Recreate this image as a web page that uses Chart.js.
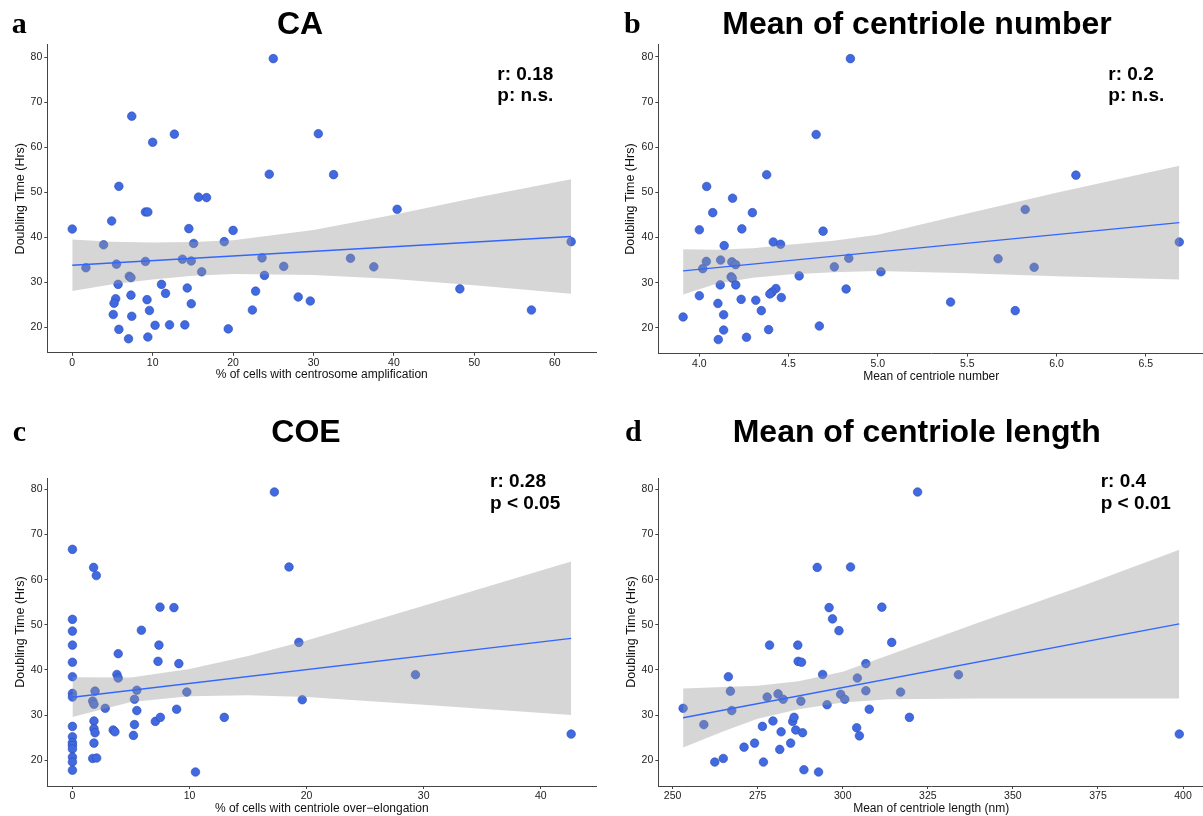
<!DOCTYPE html>
<html><head><meta charset="utf-8">
<script src="https://cdn.jsdelivr.net/npm/chart.js@4.4.0/dist/chart.umd.min.js"></script>
<style>
html,body{margin:0;padding:0;background:#fff;width:1203px;height:816px;overflow:hidden;position:relative}
canvas{position:absolute}
</style></head><body>
<canvas id="cA" width="601" height="400" style="left:0;top:0"></canvas>
<canvas id="cB" width="608" height="400" style="left:601px;top:0"></canvas>
<canvas id="cC" width="601" height="408" style="left:0;top:408px"></canvas>
<canvas id="cD" width="608" height="408" style="left:601px;top:408px"></canvas>
<script>
// ---------- shared ----------
const yTicks = [20, 30, 40, 50, 60, 70, 80];

// ---------- a: CA ----------
const caX = [25.0,7.4,10.0,12.7,24.5,5.8,15.7,16.7,9.1,9.4,4.9,0,14.5,20.0,3.9,15.1,18.9,1.7,5.5,9.1,13.7,14.8,16.1,23.6,26.3,7.1,7.3,23.9,5.7,11.1,14.3,11.6,22.8,5.4,5.2,7.3,9.3,9.6,14.8,22.4,28.1,29.6,5.1,7.4,10.3,12.1,14.0,5.8,19.4,7.0,9.4,30.6,32.5,40.4,62.04,34.6,37.5,48.2,57.1];
const caY = [79.7,66.9,61.1,62.9,54.0,51.3,48.9,48.8,45.6,45.6,43.6,41.8,41.9,41.5,38.3,38.6,39.0,33.2,34.0,34.6,35.1,34.7,32.3,35.4,33.5,31.3,31.0,31.5,29.5,29.5,28.7,27.5,28.0,26.3,25.3,27.1,26.1,23.7,25.2,23.8,26.7,25.8,22.8,22.4,20.4,20.5,20.5,19.5,19.6,17.4,17.8,63.0,53.9,46.2,39.0,35.3,33.4,28.5,23.8];
const caFitX = [0, 62.04];
const caFitY = [33.75, 40.15];
const caBandX = [0, 5, 10, 15, 20, 30, 40, 50, 62.04];
const caBandUpper = [39.5, 39.0, 38.8, 38.9, 39.3, 41.6, 45.0, 48.7, 52.9];
const caBandLower = [28.0, 29.5, 30.6, 31.4, 31.8, 31.6, 30.7, 29.3, 27.4];
const caXTicks = [0, 10, 20, 30, 40, 50, 60];

// ---------- b: Mean of centriole number ----------
const cnX = [4.846,4.654,4.377,4.041,4.186,4.075,4.297,4.0,4.238,4.693,4.414,4.455,4.139,4.039,4.119,4.182,4.203,4.019,4.837,4.756,4.559,5.017,4.178,4.184,4.117,4.204,4.0,4.429,4.407,4.395,4.822,4.234,4.316,4.459,4.104,4.347,4.136,3.909,4.672,4.136,4.388,4.106,4.264,6.109,5.825,6.688,5.673,5.875,5.407,5.769];
const cnY = [79.6,62.8,53.9,51.3,48.7,45.5,45.5,41.7,41.9,41.4,39.0,38.5,38.2,34.7,35.0,34.6,34.0,33.1,35.4,33.5,31.5,32.4,31.3,31.0,29.5,29.5,27.1,28.7,27.9,27.5,28.6,26.3,26.1,26.7,25.4,23.8,22.9,22.4,20.4,19.5,19.6,17.4,17.9,53.8,46.2,39.0,35.3,33.4,25.7,23.8];
const cnFitX = [3.909, 6.688];
const cnFitY = [32.6, 43.3];
const cnBandX = [3.909, 4.1, 4.3, 4.5, 4.75, 5.0, 5.5, 6.0, 6.688];
const cnBandUpper = [37.4, 37.3, 37.6, 38.4, 39.3, 40.6, 45.3, 49.9, 55.9];
const cnBandLower = [27.4, 29.8, 31.1, 31.8, 32.3, 32.6, 32.1, 31.4, 30.7];
const cnXTicks = [4.0, 4.5, 5.0, 5.5, 6.0, 6.5];

// ---------- c: COE ----------
const coeX = [17.25,18.5,0,1.81,2.04,0,0,0,0,0,0,0,0,0,0,0,0,0,0,0,7.48,8.67,5.89,7.39,3.91,7.31,9.09,3.80,3.91,1.93,5.50,9.77,1.73,1.84,5.30,2.80,5.50,8.90,1.84,1.84,1.93,3.48,3.63,5.30,5.21,7.08,7.51,12.97,1.84,1.73,2.07,10.51,19.34,19.63,29.3,42.6];
const coeY = [79.4,62.8,66.7,62.7,60.9,51.2,48.6,45.5,41.7,38.5,34.8,34.0,27.5,25.2,23.9,23.3,22.5,20.7,19.6,17.8,53.9,53.8,48.8,45.5,43.6,41.9,41.4,39.0,38.2,35.3,35.5,35.1,33.1,32.4,33.5,31.5,31.0,31.3,28.7,27.0,26.1,26.7,26.3,27.9,25.5,28.6,29.5,29.5,23.8,20.4,20.5,17.4,46.1,33.4,38.95,25.8];
const coeFitX = [0, 42.6];
const coeFitY = [33.95, 47.0];
const coeBandX = [0, 5, 10, 15, 20, 30, 42.6];
const coeBandUpper = [38.4, 38.3, 40.2, 43.1, 46.5, 54.2, 64.0];
const coeBandLower = [29.6, 32.9, 34.2, 34.4, 34.0, 32.3, 30.0];
const coeXTicks = [0, 10, 20, 30, 40];

// ---------- d: Mean of centriole length ----------
const clX = [253.1,259.2,262.4,264.9,266.4,267.0,267.4,271.0,274.1,276.4,276.7,277.8,278.5,279.5,281.0,281.5,281.9,282.5,284.7,285.3,285.7,286.2,286.8,286.9,287.9,287.7,288.2,288.6,292.5,292.9,294.1,295.4,296.0,297.0,298.9,299.4,300.6,302.3,304.1,304.3,304.9,306.8,306.8,307.8,311.5,314.4,317.0,322.0,334.0,319.6,398.9];
const clY = [31.5,27.9,19.6,20.4,38.5,35.3,31.0,22.9,23.8,27.5,19.6,34.0,45.5,28.7,34.7,22.4,26.3,33.5,23.8,28.6,29.5,26.7,45.5,41.9,41.7,33.1,26.1,17.9,62.7,17.4,39.0,32.3,53.8,51.3,48.7,34.6,33.5,62.8,27.2,38.2,25.4,41.4,35.4,31.3,53.9,46.1,35.1,79.4,38.95,29.5,25.8];
const clFitX = [253.1, 398.9];
const clFitY = [29.4, 50.2];
const clBandX = [253.1, 265, 275, 287, 300, 313.6, 340, 370, 398.9];
const clBandUpper = [35.9, 36.2, 36.5, 37.5, 39.6, 43.3, 50.5, 58.5, 66.6];
const clBandLower = [22.8, 26.4, 29.2, 31.3, 32.8, 33.5, 33.7, 33.7, 33.7];
const clXTicks = [250, 275, 300, 325, 350, 375, 400];

// ---------- drawing ----------
const FONT = '"Liberation Sans", Arial, Helvetica, sans-serif';
Chart.defaults.font.family = FONT;

const textPlugin = {
  id: 'panelTexts',
  afterDraw(chart, args, opts) {
    const ctx = chart.ctx;
    ctx.save();
    (opts.items || []).forEach(it => {
      ctx.font = it.font;
      ctx.fillStyle = '#000';
      ctx.textAlign = it.align || 'left';
      ctx.textBaseline = 'alphabetic';
      ctx.fillText(it.text, it.x, it.y);
    });
    ctx.restore();
  }
};

function pts(xs, ys) { return xs.map((x, i) => ({x: x, y: ys[i]})); }
function expandRange(vals) {
  const mn = Math.min(...vals), mx = Math.max(...vals), d = (mx - mn) * 0.05;
  return [mn - d, mx + d];
}

function makePanel(id, p) {
  const canvas = document.getElementById(id);
  const W = canvas.width, H = canvas.height;
  const half = 12.5 * 1.2 / 2;
  const padLeft = p.yTitleX - half;
  const xBoxBottom = p.xTitleY + half;
  const xr = expandRange(p.x);
  const yr = expandRange(p.y.concat(p.bandUpper, p.bandLower));
  const axisColor = '#444';
  new Chart(canvas, {
    type: 'scatter',
    data: {
      datasets: [
        {type: 'line', data: pts(p.fitX, p.fitY), borderColor: '#3366FF', borderWidth: 1.4,
         pointRadius: 0, fill: false, tension: 0, order: 0},
        {type: 'line', data: pts(p.bandX, p.bandUpper), borderColor: 'rgba(0,0,0,0)', borderWidth: 0,
         pointRadius: 0, fill: '+1', backgroundColor: 'rgba(153,153,153,0.4)', tension: 0, order: 1},
        {type: 'line', data: pts(p.bandX, p.bandLower), borderColor: 'rgba(0,0,0,0)', borderWidth: 0,
         pointRadius: 0, fill: false, tension: 0, order: 2},
        {type: 'scatter', data: pts(p.x, p.y), pointRadius: 4.3, pointBackgroundColor: '#4169E1',
         pointBorderColor: '#2c4cb0', pointBorderWidth: 0.6, order: 3}
      ]
    },
    options: {
      responsive: false, animation: false, devicePixelRatio: 1,
      events: [],
      layout: {padding: {left: padLeft, top: p.top, right: W - p.right, bottom: H - xBoxBottom}},
      plugins: {
        legend: {display: false}, tooltip: {enabled: false},
        filler: {propagate: false},
        panelTexts: {items: p.texts}
      },
      scales: {
        x: {
          type: 'linear', min: xr[0], max: xr[1],
          afterBuildTicks: s => { s.ticks = p.xTicks.map(v => ({value: v})); },
          afterFit: s => { s.height = xBoxBottom - p.bottom; },
          ticks: {color: '#222', font: {size: 10.5}, padding: 1, maxRotation: 0, autoSkip: false,
                  callback: v => p.xFmt(v)},
          grid: {display: true, drawOnChartArea: false, drawTicks: true, tickLength: 3, color: axisColor},
          border: {display: true, color: axisColor, width: 1},
          title: {display: true, text: p.xTitle, color: '#111', font: {size: 12}, padding: 0}
        },
        y: {
          type: 'linear', min: yr[0], max: yr[1],
          afterBuildTicks: s => { s.ticks = yTicks.map(v => ({value: v})); },
          afterFit: s => { s.width = p.left - padLeft; },
          ticks: {color: '#222', font: {size: 10.5}, padding: 2, autoSkip: false,
                  callback: v => String(v)},
          grid: {display: true, drawOnChartArea: false, drawTicks: true, tickLength: 3, color: axisColor},
          border: {display: true, color: axisColor, width: 1},
          title: {display: true, text: 'Doubling Time (Hrs)', color: '#111', font: {size: 12.5}, padding: 0}
        }
      }
    },
    plugins: [textPlugin]
  });
}

const LETTER = 'bold 30px "Liberation Serif", "Times New Roman", serif';
const TITLE = 'bold 32px ' + FONT;
const STAT = 'bold 19px ' + FONT;

makePanel('cA', {
  x: caX, y: caY, fitX: caFitX, fitY: caFitY, bandX: caBandX, bandUpper: caBandUpper, bandLower: caBandLower,
  xTicks: caXTicks, xFmt: v => String(v), xTitle: '% of cells with centrosome amplification',
  left: 47.3, right: 596.7, top: 44.6, bottom: 352.8, yTitleX: 21, xTitleY: 374.8,
  texts: [
    {text: 'a', x: 11.7, y: 33.3, font: LETTER},
    {text: 'CA', x: 300, y: 34, font: TITLE, align: 'center'},
    {text: 'r: 0.18', x: 497.3, y: 80, font: STAT},
    {text: 'p: n.s.', x: 497.3, y: 100.7, font: STAT}
  ]
});
makePanel('cB', {
  x: cnX, y: cnY, fitX: cnFitX, fitY: cnFitY, bandX: cnBandX, bandUpper: cnBandUpper, bandLower: cnBandLower,
  xTicks: cnXTicks, xFmt: v => v.toFixed(1), xTitle: 'Mean of centriole number',
  left: 57.3, right: 606.2, top: 44.6, bottom: 353.6, yTitleX: 30, xTitleY: 376.5,
  texts: [
    {text: 'b', x: 23, y: 33.3, font: LETTER},
    {text: 'Mean of centriole number', x: 316, y: 34, font: TITLE, align: 'center'},
    {text: 'r: 0.2', x: 507.3, y: 80, font: STAT},
    {text: 'p: n.s.', x: 507.3, y: 101.2, font: STAT}
  ]
});
makePanel('cC', {
  x: coeX, y: coeY, fitX: coeFitX, fitY: coeFitY, bandX: coeBandX, bandUpper: coeBandUpper, bandLower: coeBandLower,
  xTicks: coeXTicks, xFmt: v => String(v), xTitle: '% of cells with centriole over\u2212elongation',
  left: 47.5, right: 596.5, top: 70, bottom: 378, yTitleX: 20.7, xTitleY: 400.3,
  texts: [
    {text: 'c', x: 12.7, y: 32.7, font: LETTER},
    {text: 'COE', x: 306, y: 33.7, font: TITLE, align: 'center'},
    {text: 'r: 0.28', x: 490, y: 78.7, font: STAT},
    {text: 'p < 0.05', x: 490, y: 101.3, font: STAT}
  ]
});
makePanel('cD', {
  x: clX, y: clY, fitX: clFitX, fitY: clFitY, bandX: clBandX, bandUpper: clBandUpper, bandLower: clBandLower,
  xTicks: clXTicks, xFmt: v => String(v), xTitle: 'Mean of centriole length (nm)',
  left: 57.3, right: 606.2, top: 70, bottom: 378, yTitleX: 30.7, xTitleY: 400.3,
  texts: [
    {text: 'd', x: 24, y: 32.7, font: LETTER},
    {text: 'Mean of centriole length', x: 315.7, y: 33.7, font: TITLE, align: 'center'},
    {text: 'r: 0.4', x: 499.7, y: 78.7, font: STAT},
    {text: 'p < 0.01', x: 499.7, y: 101.3, font: STAT}
  ]
});
</script>
</body></html>
